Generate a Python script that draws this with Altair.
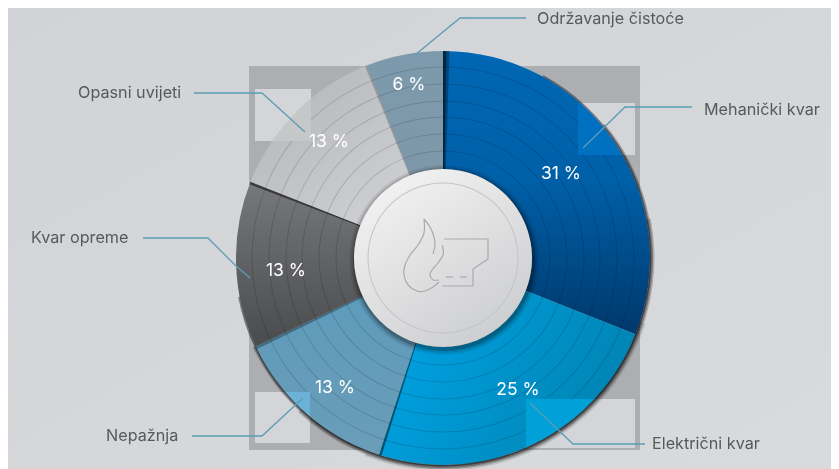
import math
import altair as alt
import pandas as pd

W, H = 823, 461
CX, CY = 443, 258
R_OUT, R_IN = 207, 89

categories = ["Mehanički kvar", "Električni kvar", "Nepažnja", "Kvar opreme", "Opasni uvijeti", "Održavanje čistoće"]
shares = [31, 24, 13, 13, 13, 6]
value_labels = ["31 %", "25 %", "13 %", "13 %", "13 %", "6 %"]
label_x = [561, 518, 335, 286, 329, 409]
label_y = [174, 390, 388, 271, 142, 85]
ring_radii = [191, 174, 157, 141, 124, 107]

sector_stops = [
    ([("#0067b4", 0), ("#0060a8", 0.45), ("#00386c", 1)], 0.5, 0, 0.5, 1),
    ([("#00a0e0", 0), ("#0082b0", 1)], 0.1, 0.3, 1, 0.6),
    ([("#5e9bbb", 0), ("#6a9db8", 1)], 0.5, 0, 0.5, 1),
    ([("#77787c", 0), ("#4a4b4d", 1)], 0.5, 0, 0.5, 1),
    ([("#b5b6b9", 0), ("#cdced1", 1)], 0.1, 0.1, 0.8, 0.9),
    ([("#7c9aac", 0), ("#7e98a9", 1)], 0.5, 0, 0.5, 1),
]

name_x = [704, 652, 106, 31, 78, 537]
name_y = [110, 444, 436, 238, 93, 19]

leaders = [
    [(583, 148), (625, 107), (692, 107)],
    [(530, 403), (573, 444), (645, 444)],
    [(192, 436), (262, 436), (303, 398)],
    [(143, 238), (208, 238), (235, 265), (250, 278)],
    [(194, 93), (262, 93), (305, 132)],
    [(415, 55), (460, 18), (526, 18)],
]

flame_a = [(424, 219), (424, 233), (418, 245), (410, 255), (405, 265), (404, 275), (408, 285), (417, 291), (425, 291), (433, 287), (439, 282)]
flame_b = [(439, 280), (433, 280), (430, 275), (432, 270), (438, 263), (443, 255), (443, 248), (442, 245)]
flame_c = [(424, 219), (430, 227), (434, 237), (435, 245), (433, 254)]
vessel = [(444, 239), (488, 239), (488, 259), (473, 269), (473, 286), (442, 286)]
dash_a = [(446, 277), (453, 277)]
dash_b = [(460, 277), (467, 277)]

big_square = (249, 66, 640, 450)
corner_squares = [(578, 103, 635, 155), (255, 89, 311, 141), (255, 392, 310, 443), (526, 399, 635, 448)]
corner_tints = ["#0070c0", "#c6c7c9", "#6cb2d6", "#00a0d8"]

# outer rim shadow: start and end of the band (percent of the turn), width, opacity
rim_bands = [(8, 72, 1.5, 0.45), (14, 68, 3, 0.3), (22, 62, 4.5, 0.2), (30, 56, 6, 0.1)]

x_scale = alt.Scale(domain=[8, 8 + W], range=[0, W])
y_scale = alt.Scale(domain=[8, 8 + H], range=[0, H])
th_scale = alt.Scale(domain=[0, 100], range=[0, 2 * math.pi])


def grad(stops, x1=0.5, y1=0, x2=0.5, y2=1):
    return alt.LinearGradient(gradient="linear",
                              stops=[alt.GradientStop(color=c, offset=o) for c, o in stops],
                              x1=x1, y1=y1, x2=x2, y2=y2)


def rect(box, **mark):
    d = pd.DataFrame([dict(a=box[0], b=box[1], c=box[2], e=box[3])])
    return alt.Chart(d).mark_rect(**mark).encode(
        x=alt.X("a:Q", scale=x_scale, axis=None), x2="c:Q",
        y=alt.Y("b:Q", scale=y_scale, axis=None), y2="e:Q")


def arc(start, end, r0, r1, cx=CX, cy=CY, **mark):
    d = pd.DataFrame([dict(s=start, t=end, r0=r0, r1=r1, cx=cx, cy=cy)])
    return alt.Chart(d).mark_arc(**mark).encode(
        x=alt.X("cx:Q", scale=x_scale, axis=None),
        y=alt.Y("cy:Q", scale=y_scale, axis=None),
        theta=alt.Theta("s:Q", scale=th_scale, stack=None), theta2="t:Q",
        radius=alt.Radius("r1:Q", scale=None), radius2="r0:Q")


def line(pts, color, width, opacity=1.0, interp="linear"):
    d = pd.DataFrame([dict(i=i, x=p[0], y=p[1]) for i, p in enumerate(pts)])
    return alt.Chart(d).mark_line(color=color, strokeWidth=width, opacity=opacity, interpolate=interp).encode(
        x=alt.X("x:Q", scale=x_scale, axis=None), y=alt.Y("y:Q", scale=y_scale, axis=None), order="i:Q")


layers = [rect((8, 8, 8 + W, 8 + H), fill=grad([("#d2d3d6", 0), ("#d9dadc", 1)], 0, 0, 1, 1))]
layers.append(rect(big_square, fill="#adaeb2"))
for b in corner_squares:
    layers.append(rect(b, fill="#d4d5d8"))

# sectors
start = 0
for share, st in zip(shares, sector_stops):
    layers.append(arc(start, start + share, R_IN, R_OUT, fill=grad(st[0], *st[1:])))
    start += share

# ring grooves
for r in ring_radii:
    layers.append(arc(0, 100, r - 0.5, r + 0.5, fill="#000000", opacity=0.14))

# edge shadows at sector boundaries
for e, w, op in [(0, 0.5, 0.3), (0, 0.25, 0.45), (54.8, 0.2, 0.45),
                 (67.75, 0.25, 0.3), (80.8, 0.2, 0.5), (93.85, 0.15, 0.2)]:
    layers.append(arc(e, e + w, R_IN, R_OUT, fill="#000000", opacity=op))

# corner squares lightening what lies beneath
for b, tint in zip(corner_squares, corner_tints):
    layers.append(rect(b, fill=tint, blend="lighten"))

# outer rim shadow
for s, e, w, op in rim_bands:
    layers.append(arc(s, e, R_OUT, R_OUT + w, fill="#000000", opacity=op))

# centre disc
for dr, op in [(6, 0.08), (4, 0.12), (2, 0.2)]:
    layers.append(arc(0, 100, 0, R_IN + dr, cx=CX + 1, cy=CY + 2, fill="#000000", opacity=op))
layers.append(arc(0, 100, 0, R_IN, fill=grad([("#f2f2f2", 0), ("#cccdcf", 1)], 0.2, 0.05, 0.8, 0.95)))
layers.append(arc(0, 100, 74.5, 75.5, fill="#c3c4c6"))

# icon
for pts in [flame_a, flame_b, flame_c]:
    layers.append(line(pts, "#a9aaac", 1.2, interp="cardinal"))
for pts in [vessel, dash_a, dash_b]:
    layers.append(line(pts, "#a9aaac", 1.2))

# leaders
for pts in leaders:
    layers.append(line(pts, "#5b9db5", 1.3))

# value labels
df = pd.DataFrame(dict(t=value_labels, x=label_x, y=label_y))
layers.append(alt.Chart(df).mark_text(font="Inter", fontSize=17.5, color="#ffffff", align="center", baseline="middle").encode(
    x=alt.X("x:Q", scale=x_scale, axis=None), y=alt.Y("y:Q", scale=y_scale, axis=None), text="t:N"))

dn = pd.DataFrame(dict(t=categories, x=name_x, y=name_y))
layers.append(alt.Chart(dn).mark_text(font="Inter", fontSize=16.2, color="#58595b", align="left", baseline="middle").encode(
    x=alt.X("x:Q", scale=x_scale, axis=None), y=alt.Y("y:Q", scale=y_scale, axis=None), text="t:N"))

chart = alt.layer(*layers).properties(width=W, height=H, padding=0, background="#d6d7d9").configure_view(stroke=None)
chart.save("out.html", embed_options={"renderer": "svg", "actions": False})
